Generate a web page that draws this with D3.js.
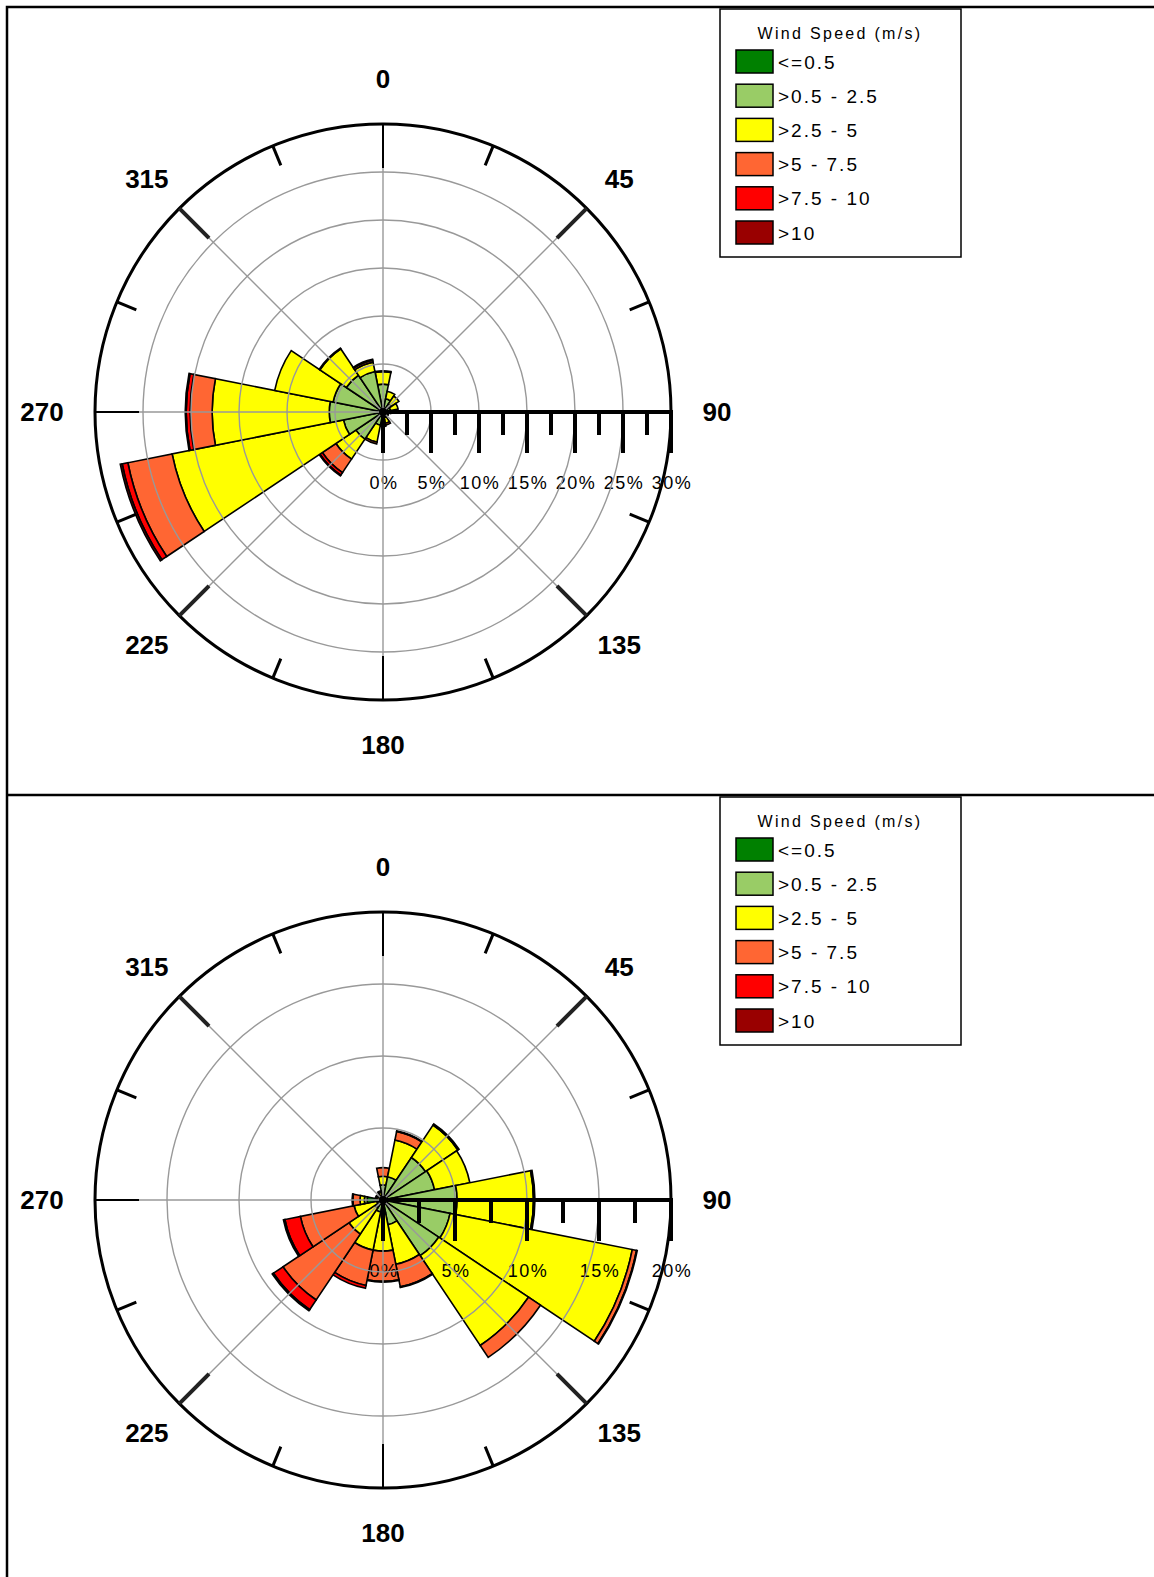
<!DOCTYPE html>
<html>
<head>
<meta charset="utf-8">
<script src="https://cdn.jsdelivr.net/npm/d3@7"></script>
<style>
  body { margin: 0; background: #fff; }
  svg { display: block; }
  text { font-family: "Liberation Sans", Arial, sans-serif; fill: #000; }
</style>
</head>
<body>
<div id="chart"></div>
<script>
// categories
const directions = [0, 22.5, 45, 67.5, 90, 112.5, 135, 157.5, 180, 202.5, 225, 247.5, 270, 292.5, 315, 337.5];
const compassLabels = [0, 45, 90, 135, 180, 225, 270, 315];
const speedBins = ['<=0.5', '>0.5 - 2.5', '>2.5 - 5', '>5 - 7.5', '>7.5 - 10', '>10'];
const binColors = ['#008000', '#99cc66', '#ffff00', '#ff6633', '#ff0000', '#990000'];

// top rose, frequency (%) per speed bin, one value per direction (N .. NNW)
const topBin1 = [0.1, 0.1, 0.1, 0.1, 0.1, 0.1, 0.1, 0.1, 0.1, 0.1, 0.1, 0.1, 0.1, 0.1, 0.1, 0.1];
const topBin2 = [2.8, 1.3, 0.9, 0.7, 0.4, 0.3, 0.3, 0.5, 0.7, 1.3, 3.3, 4.1, 5.5, 5.2, 4.5, 4.2];
const topBin3 = [1.3, 0.8, 1.0, 0.8, 0.3, 0.2, 0.2, 0.6, 0.6, 1.8, 2.5, 18.2, 12.2, 6.2, 3.3, 1.0];
const topBin4 = [0.1, 0, 0, 0, 0, 0, 0, 0.2, 0.1, 0.2, 1.7, 4.7, 2.3, 0, 0.1, 0.2];
const topBin5 = [0, 0, 0, 0, 0, 0, 0, 0, 0, 0, 0.3, 0.6, 0.4, 0, 0, 0.1];
const topBin6 = [0, 0, 0, 0, 0, 0, 0, 0, 0, 0, 0.1, 0.2, 0.1, 0, 0, 0];
const topTicks = [0, 5, 10, 15, 20, 25, 30];

// bottom rose
const botBin1 = [0.05, 0.05, 0.05, 0.05, 0.05, 0.05, 0.05, 0.05, 0.05, 0.05, 0.05, 0.05, 1.1, 0.05, 0.05, 0.05];
const botBin2 = [1.0, 1.6, 3.5, 3.6, 5.1, 4.7, 4.6, 1.7, 0.8, 0.8, 0.6, 0.4, 0.2, 0.2, 0.2, 0.3];
const botBin3 = [0.6, 2.6, 2.7, 2.5, 5.3, 12.9, 7.5, 2.8, 2.7, 2.7, 2.2, 1.6, 0.3, 0.2, 0.1, 0.2];
const botBin4 = [0.6, 0.6, 0.1, 0, 0.1, 0.3, 1.0, 1.6, 2.1, 2.5, 5.5, 3.8, 0.5, 0.1, 0, 0.1];
const botBin5 = [0, 0.05, 0, 0, 0, 0.05, 0, 0.05, 0.05, 0.2, 0.8, 1.1, 0.05, 0, 0, 0];
const botBin6 = [0, 0, 0, 0, 0, 0, 0, 0, 0, 0, 0.1, 0.1, 0, 0, 0, 0];
const botTicks = [0, 5, 10, 15, 20];

const width = 1154, height = 1577;
const outerR = 288;
const panelH = 788;

const svg = d3.select('#chart').append('svg')
    .attr('width', width)
    .attr('height', height);

// table frame
svg.append('path')
    .attr('d', `M7,${height} V7 H${width} M7,${7 + panelH} H${width}`)
    .attr('fill', 'none')
    .attr('stroke', '#000')
    .attr('stroke-width', 2.5);

drawRose([topBin1, topBin2, topBin3, topBin4, topBin5, topBin6], topTicks, 0);
drawLegend(0);
drawRose([botBin1, botBin2, botBin3, botBin4, botBin5, botBin6], botTicks, panelH);
drawLegend(panelH);

function drawRose(bins, ticks, dy) {
    const g = svg.append('g').attr('transform', `translate(383, ${412 + dy})`);
    const r = d3.scaleLinear().domain([0, d3.max(ticks)]).range([0, outerR]);
    const rad = d => d * Math.PI / 180;

    // stack the speed bins per direction
    let bands = [];
    directions.forEach((dir, i) => {
        let cum = 0;
        bins.forEach((b, k) => {
            if (b[i] > 0) bands.push({dir: dir, bin: k, r0: cum, r1: cum + b[i]});
            cum += b[i];
        });
    });

    const arc = d3.arc()
        .innerRadius(d => r(d.r0))
        .outerRadius(d => r(d.r1))
        .startAngle(d => rad(d.dir - 11.25))
        .endAngle(d => rad(d.dir + 11.25));

    g.selectAll('path.band')
        .data(bands)
        .enter()
        .append('path')
        .attr('class', 'band')
        .attr('d', arc)
        .attr('fill', d => binColors[d.bin])
        .attr('stroke', '#000')
        .attr('stroke-width', 1.6);

    // percent labels
    g.selectAll('text.pct')
        .data(ticks)
        .enter()
        .append('text')
        .attr('class', 'pct')
        .attr('x', d => r(d) + 1)
        .attr('y', 71)
        .attr('text-anchor', 'middle')
        .attr('dominant-baseline', 'central')
        .style('font-size', '18px')
        .style('letter-spacing', '1.5px')
        .text(d => d + '%');

    // grid circles
    g.selectAll('circle.grid')
        .data(ticks.slice(1, -1))
        .enter()
        .append('circle')
        .attr('r', d => r(d))
        .attr('fill', 'none')
        .attr('stroke', '#999')
        .attr('stroke-width', 1.4);

    // spokes
    g.selectAll('line.spoke')
        .data(compassLabels.filter(a => a !== 90))
        .enter()
        .append('line')
        .attr('x1', 0).attr('y1', 0)
        .attr('x2', 0).attr('y2', -outerR)
        .attr('transform', d => `rotate(${d})`)
        .attr('stroke', '#999')
        .attr('stroke-width', 1.4);

    // radial axis along 90
    const minor = d3.range(0, d3.max(ticks) + 0.01, 2.5);
    g.append('line')
        .attr('x1', 0).attr('y1', 0)
        .attr('x2', outerR + 2).attr('y2', 0)
        .attr('stroke', '#000')
        .attr('stroke-width', 4);
    g.selectAll('line.atick')
        .data(minor)
        .enter()
        .append('line')
        .attr('x1', d => r(d)).attr('x2', d => r(d))
        .attr('y1', 0)
        .attr('y2', d => d % 5 === 0 ? 41 : 23)
        .attr('stroke', '#000')
        .attr('stroke-width', 4);

    g.append('circle').attr('r', 4).attr('fill', '#000');

    // outer circle
    g.append('circle')
        .attr('r', outerR)
        .attr('fill', 'none')
        .attr('stroke', '#000')
        .attr('stroke-width', 3);

    // compass ticks
    g.selectAll('line.ctick')
        .data(directions.filter(a => a !== 90))
        .enter()
        .append('line')
        .attr('x1', 0).attr('y1', -outerR)
        .attr('x2', 0)
        .attr('y2', d => d % 90 === 0 ? -outerR + 44 : (d % 45 === 0 ? -outerR + 42 : -outerR + 21))
        .attr('transform', d => `rotate(${d})`)
        .attr('stroke', d => d % 90 !== 0 && d % 45 === 0 ? '#222' : '#000')
        .attr('stroke-width', d => d % 90 === 0 ? 2 : (d % 45 === 0 ? 4 : 3));

    // compass labels
    g.selectAll('text.dir')
        .data(compassLabels)
        .enter()
        .append('text')
        .attr('class', 'dir')
        .attr('x', d => (d === 270 ? 341 : 334) * Math.sin(rad(d)))
        .attr('y', d => -(d % 90 === 0 ? 333 : 329) * Math.cos(rad(d)))
        .attr('text-anchor', 'middle')
        .attr('dominant-baseline', 'central')
        .style('font-size', '26px')
        .style('font-weight', 'bold')
        .text(d => d);
}

function drawLegend(dy) {
    const lg = svg.append('g').attr('transform', `translate(720, ${9 + dy})`);
    lg.append('rect')
        .attr('width', 241)
        .attr('height', 248)
        .attr('fill', '#fff')
        .attr('stroke', '#000')
        .attr('stroke-width', 1.5);
    lg.append('text')
        .attr('x', 120)
        .attr('y', 24)
        .attr('text-anchor', 'middle')
        .attr('dominant-baseline', 'central')
        .style('font-size', '16px')
        .style('letter-spacing', '2.3px')
        .text('Wind Speed (m/s)');
    const items = lg.selectAll('g.item')
        .data(speedBins)
        .enter()
        .append('g')
        .attr('transform', (d, i) => `translate(0, ${41 + i * 34.2})`);
    items.append('rect')
        .attr('x', 16)
        .attr('width', 37)
        .attr('height', 23)
        .attr('fill', (d, i) => binColors[i])
        .attr('stroke', '#000')
        .attr('stroke-width', 1.5);
    items.append('text')
        .attr('x', 58)
        .attr('y', 12)
        .attr('dominant-baseline', 'central')
        .style('font-size', '19px')
        .style('letter-spacing', '2px')
        .text(d => d);
}
</script>
</body>
</html>
